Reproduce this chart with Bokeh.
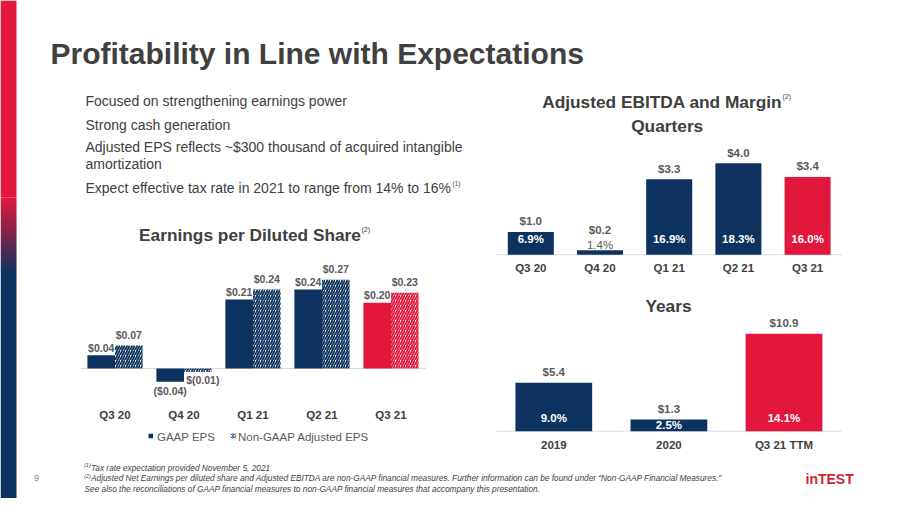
from bokeh.plotting import figure
from bokeh.models import Range1d
from bokeh.core.properties import value
from bokeh.embed import file_html
from bokeh.resources import INLINE

# ---------------- data ----------------
slide_title = "Profitability in Line with Expectations"
bullet_lines = [
    "Focused on strengthening earnings power",
    "Strong cash generation",
    "Adjusted EPS reflects ~$300 thousand of acquired intangible",
    "amortization",
    "Expect effective tax rate in 2021 to range from 14% to 16%",
]

eps_title = "Earnings per Diluted Share"
eps_quarters = ["Q3 20", "Q4 20", "Q1 21", "Q2 21", "Q3 21"]
gaap_eps = [0.04, -0.04, 0.21, 0.24, 0.20]
adj_eps = [0.07, -0.01, 0.24, 0.27, 0.23]
gaap_eps_labels = ["$0.04", "($0.04)", "$0.21", "$0.24", "$0.20"]
adj_eps_labels = ["$0.07", "$(0.01)", "$0.24", "$0.27", "$0.23"]
eps_legend = ["GAAP EPS", "Non-GAAP Adjusted EPS"]

ebitda_title = "Adjusted EBITDA and Margin"
ebitda_quarters = ["Q3 20", "Q4 20", "Q1 21", "Q2 21", "Q3 21"]
ebitda_q = [1.0, 0.2, 3.3, 4.0, 3.4]
margin_q = [6.9, 1.4, 16.9, 18.3, 16.0]

ebitda_periods = ["2019", "2020", "Q3 21 TTM"]
ebitda_y = [5.4, 1.3, 10.9]
margin_y = [9.0, 2.5, 14.1]

footnotes = [
    "Tax rate expectation provided November 5, 2021",
    "Adjusted Net Earnings per diluted share and Adjusted EBITDA are non-GAAP financial measures. Further information can be found under \u201cNon-GAAP Financial Measures.\u201d",
    "See also the reconciliations of GAAP financial measures to non-GAAP financial measures that accompany this presentation.",
]
page_number = "9"
logo_text = "inTEST"

# ---------------- styles ----------------
NAVY = "#0c335f"
RED = "#e3173b"
DARK = "#404040"
MID = "#595959"
FONT = value("Liberation Sans")

W, H = 883, 498
OX, OY = 0, 0

p = figure(width=W, height=H, x_range=Range1d(OX, OX + W), y_range=Range1d(OY + H, OY),
           output_backend="svg", toolbar_location=None, min_border=0,
           x_axis_location=None, y_axis_location=None, outline_line_color=None)
p.grid.visible = False
p.background_fill_color = "white"
p.border_fill_color = "white"


def add_ranges(name, x_px0, x_step, base_px, k):
    xs = -(x_px0 - OX) / x_step
    p.extra_x_ranges[name] = Range1d(xs, xs + W / x_step)
    p.extra_y_ranges[name] = Range1d((base_px - (OY + H)) / k, (base_px - OY) / k)


def txt(x, y, s, size, color=DARK, bold=False, italic=False, align="left",
        baseline="middle", rn=None):
    style = "bold italic" if (bold and italic) else ("bold" if bold else ("italic" if italic else "normal"))
    xs = x if isinstance(x, list) else [x]
    ys = y if isinstance(y, list) else [y]
    ss = s if isinstance(s, list) else [s]
    kw = {}
    if rn:
        kw = dict(x_range_name=rn, y_range_name=rn)
    p.text(x=xs, y=ys, text=ss, text_font=FONT, text_font_size=f"{size}px",
           text_font_style=style, text_color=color, text_align=align,
           text_baseline=baseline, **kw)


def hexmix(c1, c2, t):
    a = [int(c1[i:i + 2], 16) for i in (1, 3, 5)]
    b = [int(c2[i:i + 2], 16) for i in (1, 3, 5)]
    return "#" + "".join(f"{int(round(a[j] + (b[j] - a[j]) * t)):02x}" for j in range(3))


# ---------------- left strip ----------------
p.quad(left=[0], right=[16], top=[0], bottom=[197], fill_color=RED, line_color=None)
p.quad(left=[0], right=[16], top=[273], bottom=[510], fill_color=NAVY, line_color=None)
nb = 19
bt = [197 + (273 - 197) * i / nb for i in range(nb)]
bb = [197 + (273 - 197) * (i + 1) / nb + 0.5 for i in range(nb)]
bc = [hexmix(RED, NAVY, (i + 0.5) / nb) for i in range(nb)]
p.quad(left=[0] * nb, right=[16] * nb, top=bt, bottom=bb, fill_color=bc, line_color=None)

# ---------------- title & bullets ----------------
txt(50, 53, slide_title, 30, DARK, bold=True, baseline="alphabetic")
bullet_y = [100, 124, 146.5, 163.5, 187]
txt([85] * len(bullet_lines), bullet_y, bullet_lines, 14, DARK)
txt(452, 182.5, "(1)", 6.5, DARK)

# ---------------- EPS chart ----------------
ke = 329.0
add_ranges("eps", 114.5, 69.0, 368.0, ke)
n = len(eps_quarters)
idx = list(range(n))
cols_e = [RED if c == "Q3 21" else NAVY for c in eps_quarters]
gx = [i - 0.2 for i in idx]
ax = [i + 0.2 for i in idx]
p.segment(x0=[-0.5], x1=[n - 0.5], y0=[0], y1=[0], line_color="#d9d9d9", line_width=1,
          x_range_name="eps", y_range_name="eps")
p.vbar(x=gx, top=gaap_eps, bottom=0, width=0.4, fill_color=cols_e, line_color=None,
       x_range_name="eps", y_range_name="eps")
p.vbar(x=ax, top=adj_eps, bottom=0, width=0.4, fill_color="white", line_color=None,
       hatch_pattern="/", hatch_color=cols_e, hatch_scale=5, hatch_weight=1.9,
       x_range_name="eps", y_range_name="eps")
g_ly = [v + 7.5 / ke if v >= 0 else v - 9.3 / ke for v in gaap_eps]
a_ly = [v + 10.5 / ke if v >= 0 else v - 8.5 / ke for v in adj_eps]
a_lx = [x if v >= 0 else x + 5.0 / 69.0 for x, v in zip(ax, adj_eps)]
txt(gx, g_ly, gaap_eps_labels, 10.5, MID, bold=True, align="center", rn="eps")
txt(a_lx, a_ly, adj_eps_labels, 10.5, MID, bold=True, align="center", rn="eps")
txt(idx, [-46.0 / ke] * n, eps_quarters, 11.5, DARK, bold=True, align="center", rn="eps")
txt(249.5, 234, eps_title, 17.3, DARK, bold=True, align="center")
txt(361, 228.5, "(2)", 7, DARK)
# legend
p.rect(x=[150.3], y=[435.5], width=4.5, height=4.5, fill_color=NAVY, line_color=None)
p.rect(x=[232.8], y=[435.5], width=5, height=5, fill_color="white", line_color=None,
       hatch_pattern="/", hatch_color=NAVY, hatch_scale=3, hatch_weight=1.0)
txt([156.5, 237.5], [436, 436], eps_legend, 11.5, MID)

# ---------------- EBITDA quarters ----------------
kq = 22.9
add_ranges("q", 530.3, 69.2, 254.3, kq)
nq = len(ebitda_quarters)
iq = list(range(nq))
cols_q = [RED if c == "Q3 21" else NAVY for c in ebitda_quarters]
p.segment(x0=[-0.5], x1=[nq - 0.5], y0=[0], y1=[0], line_color="#d9d9d9", line_width=1,
          x_range_name="q", y_range_name="q")
p.vbar(x=iq, top=ebitda_q, bottom=0, width=0.665, fill_color=cols_q, line_color=None,
       x_range_name="q", y_range_name="q")
inside_q = [v * kq >= 12 for v in ebitda_q]
txt(iq, [v + (10.5 if ins else 20.5) / kq for v, ins in zip(ebitda_q, inside_q)],
    [f"${v:.1f}" for v in ebitda_q], 11.5, MID, bold=True, align="center", rn="q")
txt([i for i, ins in zip(iq, inside_q) if ins], [15.5 / kq] * sum(inside_q),
    [f"{m:.1f}%" for m, ins in zip(margin_q, inside_q) if ins], 11.5, "white",
    bold=True, align="center", rn="q")
txt([i for i, ins in zip(iq, inside_q) if not ins],
    [v + 5.5 / kq for v, ins in zip(ebitda_q, inside_q) if not ins],
    [f"{m:.1f}%" for m, ins in zip(margin_q, inside_q) if not ins], 11.5, MID,
    align="center", rn="q")
txt(iq, [-13.4 / kq] * nq, ebitda_quarters, 11.5, DARK, bold=True, align="center", rn="q")

txt(661.7, 101.7, ebitda_title, 17.3, DARK, bold=True, align="center")
txt(782, 96, "(2)", 7, DARK)
txt(666.7, 125.5, "Quarters", 17.3, DARK, bold=True, align="center")

# ---------------- EBITDA years ----------------
ky = 8.95
add_ranges("yr", 553.3, 115.1, 430.7, ky)
ny = len(ebitda_periods)
iy = list(range(ny))
cols_y = [RED if c == "Q3 21 TTM" else NAVY for c in ebitda_periods]
p.segment(x0=[-0.5], x1=[ny - 0.5], y0=[0], y1=[0], line_color="#d9d9d9", line_width=1,
          x_range_name="yr", y_range_name="yr")
p.vbar(x=iy, top=ebitda_y, bottom=0, width=0.667, fill_color=cols_y, line_color=None,
       x_range_name="yr", y_range_name="yr")
txt(iy, [v + 10.7 / ky for v in ebitda_y], [f"${v:.1f}" for v in ebitda_y], 11.5, MID,
    bold=True, align="center", rn="yr")
txt(iy, [min(13.0, v * ky / 2) / ky for v in ebitda_y], [f"{m:.1f}%" for m in margin_y],
    11.5, "white", bold=True, align="center", rn="yr")
txt(iy, [-13.3 / ky] * ny, ebitda_periods, 11.5, DARK, bold=True, align="center", rn="yr")
txt(668, 305, "Years", 17.3, DARK, bold=True, align="center")

# ---------------- footer ----------------
txt(83.5, 464.5, "(1)", 5.5, DARK, italic=True)
txt(83.5, 475.0, "(2)", 5.5, DARK, italic=True)
txt([90.5, 90.5, 84], [467, 477.5, 488.5], footnotes, 8.3, DARK, italic=True)
txt(36, 477, page_number, 9, "#7f7f7f", align="center")
txt(805, 478, logo_text, 14, "#d01f35", bold=True)

open("out.html", "w").write(file_html(p, INLINE))
